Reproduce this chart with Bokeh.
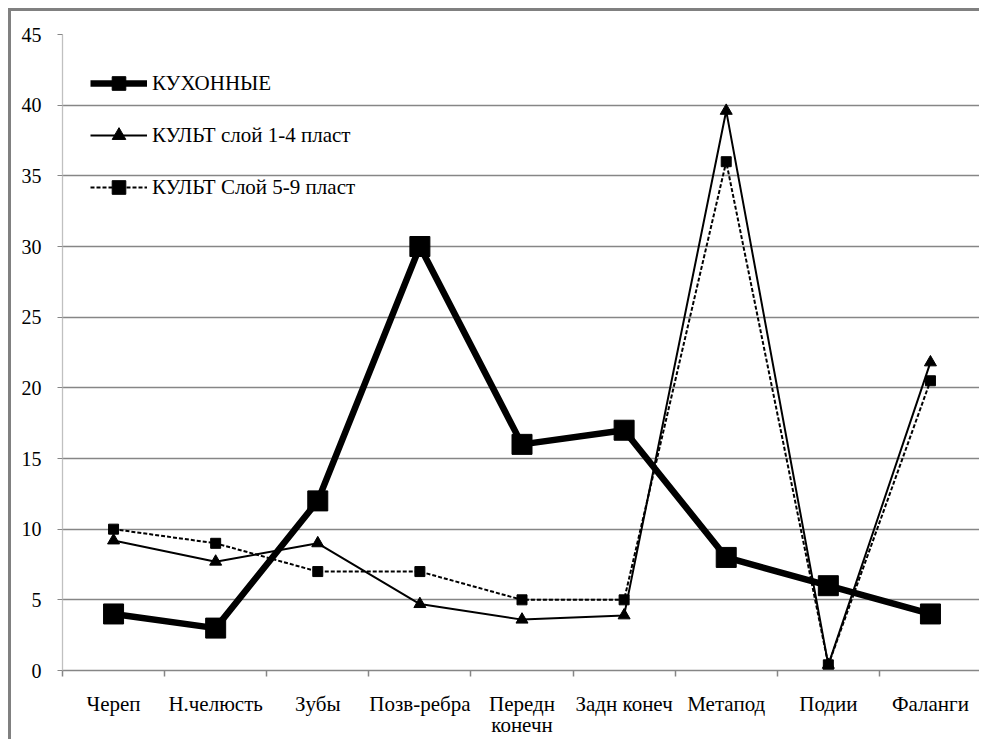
from bokeh.plotting import figure
from bokeh.models import ColumnDataSource, FixedTicker, Range1d, Legend
from bokeh.embed import file_html
from bokeh.resources import INLINE

categories = ["Череп", "Н.челюсть", "Зубы", "Позв-ребра", "Передн\nконечн",
              "Задн конеч", "Метапод", "Подии", "Фаланги"]
kitchen = [4, 3, 12, 30, 16, 17, 8, 6, 4]
cult_1_4 = [9.2, 7.7, 9.0, 4.7, 3.6, 3.9, 39.6, 0.4, 21.8]
cult_5_9 = [10, 9, 7, 7, 5, 5, 36, 0.4, 20.5]
y_ticks = [0, 5, 10, 15, 20, 25, 30, 35, 40, 45]
series_names = ["КУХОННЫЕ", "КУЛЬТ слой 1-4 пласт", "КУЛЬТ Слой 5-9 пласт"]

x = [i + 0.5 for i in range(len(categories))]
src = ColumnDataSource(dict(x=x, k=kitchen, a=cult_1_4, b=cult_5_9))

FONT = "Liberation Serif"
GRID = "#868686"

p = figure(width=971, height=731, output_backend="svg", toolbar_location=None,
           x_range=Range1d(0, len(categories)), y_range=Range1d(0, 45),
           min_border_left=51, min_border_right=1, min_border_top=23,
           min_border_bottom=72,
           styles={"margin-left": "8px", "margin-top": "8px",
                   "border-left": "3px solid #808080", "border-top": "3px solid #808080"})
p.outline_line_color = None
p.background_fill_color = "white"
p.border_fill_color = "white"

# grid
p.xgrid.grid_line_color = None
p.ygrid.ticker = FixedTicker(ticks=y_ticks)
p.ygrid.grid_line_color = GRID
p.ygrid.grid_line_width = 1.3

# y axis
p.yaxis.ticker = FixedTicker(ticks=y_ticks)
p.yaxis.axis_line_color = "#c0c0c0"
p.yaxis.axis_line_width = 1.3
p.yaxis.major_tick_line_color = GRID
p.yaxis.major_tick_out = 5
p.yaxis.major_tick_in = 0
p.yaxis.minor_tick_line_color = None
p.yaxis.major_label_standoff = 16
p.yaxis.major_label_text_font = FONT
p.yaxis.major_label_text_font_size = "20px"
p.yaxis.major_label_text_color = "black"

# x axis: labels at category centres, ticks at category boundaries
p.xaxis.ticker = FixedTicker(ticks=x, minor_ticks=list(range(len(categories) + 1)))
p.xaxis.major_label_overrides = {xi: c for xi, c in zip(x, categories)}
p.xaxis.axis_line_color = GRID
p.xaxis.axis_line_width = 1.5
p.xaxis.major_tick_line_color = None
p.xaxis.major_tick_out = 0
p.xaxis.major_tick_in = 0
p.xaxis.minor_tick_line_color = GRID
p.xaxis.minor_tick_line_width = 1.5
p.xaxis.minor_tick_out = 6
p.xaxis.minor_tick_in = 0
p.xaxis.major_label_standoff = 15
p.xaxis.major_label_text_font = FONT
p.xaxis.major_label_text_font_size = "21px"
p.xaxis.major_label_text_color = "black"
p.xaxis.major_label_text_line_height = 0.88

# series
l1 = p.line("x", "k", source=src, line_color="black", line_width=6.5)
m1 = p.scatter("x", "k", source=src, marker="square", size=20, fill_color="black", line_color="black")
l2 = p.line("x", "a", source=src, line_color="black", line_width=2)
m2 = p.scatter("x", "a", source=src, marker="triangle", size=12, fill_color="black", line_color="black")
l3 = p.line("x", "b", source=src, line_color="black", line_width=2, line_dash="4 2")
m3 = p.scatter("x", "b", source=src, marker="square", size=10, fill_color="black", line_color="black")

legend = Legend(items=[(series_names[0], [l1, m1]), (series_names[1], [l2, m2]),
                       (series_names[2], [l3, m3])],
                location=(28, 466), orientation="vertical")
legend.margin = 0
legend.padding = 0
legend.spacing = 18
legend.glyph_width = 57
legend.glyph_height = 34
legend.label_height = 34
legend.label_standoff = 5
legend.label_text_font = FONT
legend.label_text_font_size = "21px"
legend.label_text_color = "black"
legend.border_line_color = None
legend.background_fill_alpha = 0
p.add_layout(legend)

open("out.html", "w").write(file_html(p, INLINE))
